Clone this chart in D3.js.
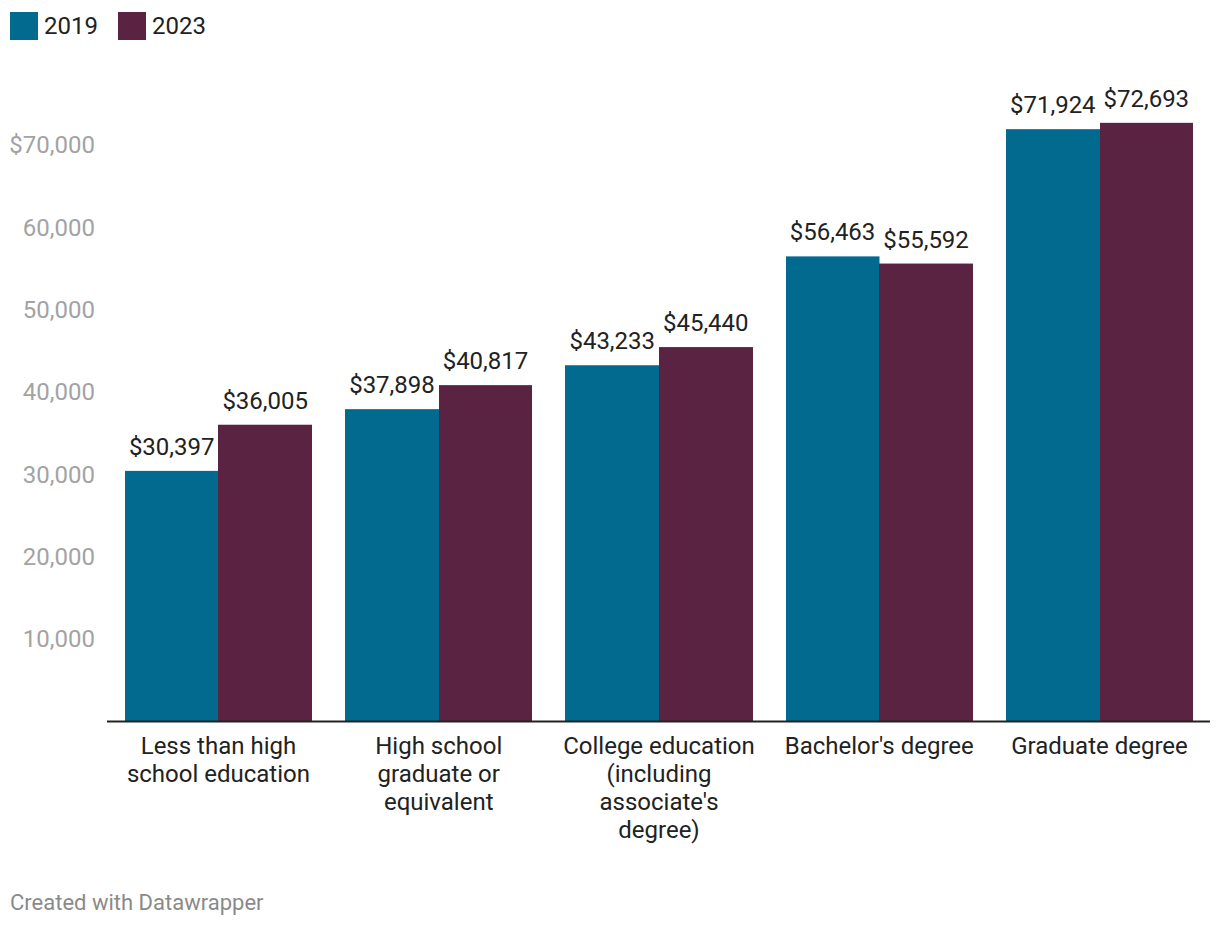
<!DOCTYPE html>
<html><head><meta charset="utf-8">
<script src="https://cdn.jsdelivr.net/npm/d3@7"></script>
<style>body{margin:0;background:#fff;font-family:Roboto,sans-serif}</style>
</head><body>
<svg id="c" width="1220" height="928"></svg>
<script>
const categories = [["Less than high","school education"],["High school","graduate or","equivalent"],["College education","(including","associate's","degree)"],["Bachelor's degree"],["Graduate degree"]];
const seriesNames = ["2019","2023"];
const values2019 = [30397,37898,43233,56463,71924];
const values2023 = [36005,40817,45440,55592,72693];
const yTicks = [10000,20000,30000,40000,50000,60000,70000];
const colors = ["#026a8f","#5a2341"];

const svg = d3.select("#c");
const fs = 24;
const x = d3.scaleBand().domain(d3.range(categories.length)).range([108,1210]).paddingInner(0.151).paddingOuter(0.077);
const x1 = d3.scaleBand().domain(seriesNames).range([0,x.bandwidth()]);
const y = d3.scaleLinear().domain([0,70000]).range([721,145]);

// y labels
svg.append("g").selectAll("text").data(yTicks).join("text")
  .attr("x",95).attr("y",d=>y(d)).attr("dy","0.35em").attr("text-anchor","end")
  .attr("fill","#a3a3a3").style("font-size",fs+"px")
  .text((d,i)=> (i===yTicks.length-1?"$":"")+d3.format(",")(d));

const series = [values2019, values2023];
const g = svg.append("g");
categories.forEach((c,i)=>{
  series.forEach((vals,s)=>{
    const bx = x(i)+x1(seriesNames[s]);
    const x0r = Math.round(bx), x1r = Math.round(bx+x1.bandwidth());
    g.append("rect").attr("x",x0r).attr("y",y(vals[i])).attr("width",x1r-x0r+(s===0?0.5:0)).attr("height",y(0)-y(vals[i])).attr("fill",colors[s]);
    g.append("text").attr("x",bx+x1.bandwidth()/2).attr("y",y(vals[i])-16).attr("text-anchor","middle")
      .attr("fill","#222").style("font-size",fs+"px").text("$"+d3.format(",")(vals[i]));
  });
  const t = svg.append("text").attr("text-anchor","middle").attr("fill","#222").style("font-size",fs+"px");
  c.forEach((line,k)=>t.append("tspan").attr("x",x(i)+x.bandwidth()/2).attr("y",754+k*28).text(line));
});
g.raise();

// baseline
svg.append("line").attr("x1",107).attr("x2",1210).attr("y1",y(0)+0.5).attr("y2",y(0)+0.5).attr("stroke","#222").attr("stroke-width",2);

// legend
const leg = [{n:"2019",x:10},{n:"2023",x:118}];
leg.forEach((l,i)=>{
  svg.append("rect").attr("x",l.x).attr("y",12).attr("width",28).attr("height",28).attr("fill",colors[i]);
  svg.append("text").attr("x",l.x+34).attr("y",26).attr("dy","0.35em").attr("fill","#222").style("font-size",fs+"px").text(l.n);
});

svg.append("text").attr("x",10).attr("y",902).attr("dy","0.35em").attr("fill","#8a8a8a").style("font-size","22px").text("Created with Datawrapper");
</script>
</body></html>
